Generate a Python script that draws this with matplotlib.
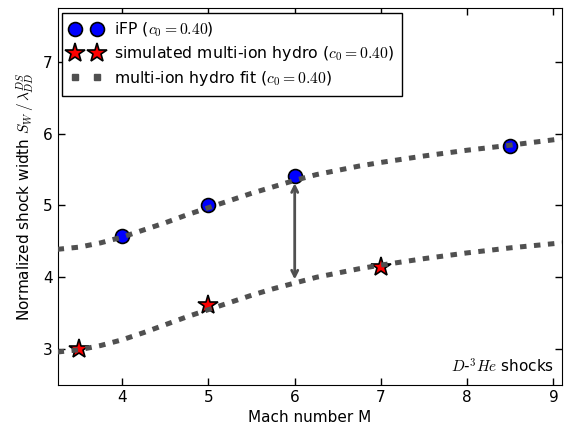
import matplotlib
matplotlib.use("Agg")
import matplotlib.pyplot as plt
from matplotlib.lines import Line2D

plt.rcParams['mathtext.fontset'] = 'cm'
plt.rcParams['font.family'] = 'DejaVu Sans'
plt.rcParams['xtick.direction'] = 'in'
plt.rcParams['ytick.direction'] = 'in'
plt.rcParams['xtick.top'] = True
plt.rcParams['ytick.right'] = True

# iFP data
ifp_x = [4.0, 5.0, 6.0, 8.5]
ifp_y = [4.58, 5.00, 5.41, 5.83]

# simulated multi-ion hydro
sim_x = [3.5, 5.0, 7.0]
sim_y = [3.00, 3.62, 4.15]

# multi-ion hydro fit curves
fit_x = [3.25, 3.5, 3.75, 4.0, 4.25, 4.5, 4.75, 5.0, 5.25, 5.5, 5.75, 6.0,
         6.25, 6.5, 6.75, 7.0, 7.5, 8.0, 8.5, 9.1]
fit_upper = [4.39, 4.42, 4.48, 4.56, 4.66, 4.76, 4.87, 4.97, 5.07, 5.17, 5.26, 5.35,
             5.43, 5.49, 5.55, 5.60, 5.69, 5.77, 5.84, 5.93]
fit_lower = [2.96, 2.99, 3.05, 3.13, 3.23, 3.34, 3.45, 3.55, 3.65, 3.75, 3.84, 3.92,
             4.00, 4.06, 4.12, 4.17, 4.26, 4.34, 4.41, 4.48]

arrow_x = 6.0
arrow_top = 5.31
arrow_bottom = 3.97

labels = [r'iFP ($c_0 =0.40$)',
          r'simulated multi-ion hydro ($c_0 =0.40$)',
          r'multi-ion hydro fit ($c_0 =0.40$)']

fig = plt.figure(figsize=(5.7, 4.24), dpi=100)
ax = fig.add_axes([0.101, 0.092, 0.885, 0.889])

fitc = '#505050'
h1, = ax.plot(ifp_x, ifp_y, 'o', color='#0000ff', mec='black', mew=1.2, ms=10,
              zorder=2)
h2, = ax.plot(sim_x, sim_y, '*', color='#ff0000', mec='black', mew=1.2, ms=15,
              zorder=2)
ax.plot(fit_x, fit_upper, color=fitc, lw=3.6, dashes=(1.3, 1.5), zorder=3)
ax.plot(fit_x, fit_lower, color=fitc, lw=3.6, dashes=(1.3, 1.5), zorder=3)
h3 = Line2D([], [], ls='none', marker='s', ms=4, color=fitc, mec=fitc)

ax.annotate('', xy=(arrow_x, arrow_bottom), xytext=(arrow_x, arrow_top),
            arrowprops=dict(arrowstyle='<->', color=fitc, lw=2,
                            shrinkA=0, shrinkB=0, mutation_scale=11), zorder=4)

ax.set_xlim(3.25, 9.1)
ax.set_ylim(2.5, 7.75)
ax.set_xticks([4, 5, 6, 7, 8, 9])
ax.set_yticks([3, 4, 5, 6, 7])
ax.tick_params(labelsize=11, length=5, width=1)
ax.set_xlabel('Mach number M', fontsize=11)
ax.set_ylabel(r'Normalized shock width $S_W\,/\,\lambda_{DD}^{DS}$', fontsize=11)

ax.text(0.984, 0.025, r'$D$-$^3He$ shocks', transform=ax.transAxes,
        ha='right', va='bottom', fontsize=11)

leg = ax.legend([h1, h2, h3], labels, loc='upper left', numpoints=2,
                fontsize=11.3, fancybox=False,
                frameon=True, borderaxespad=0.3, handlelength=2.0,
                handletextpad=0.8, labelspacing=0.35, borderpad=0.5)
leg.get_frame().set_edgecolor('black')
leg.get_frame().set_linewidth(1.0)
leg.get_frame().set_alpha(1)

fig.savefig('out.png', dpi=100)
